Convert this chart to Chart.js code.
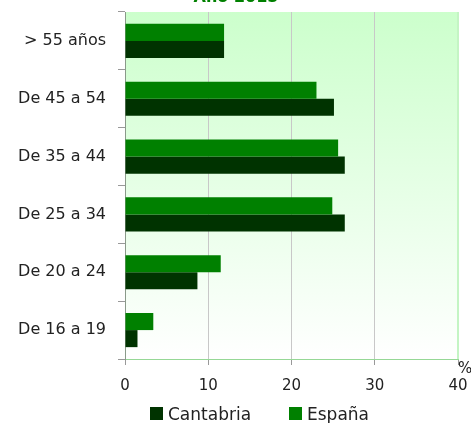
<!DOCTYPE html>
<html>
<head>
<meta charset="utf-8">
<script src="https://cdn.jsdelivr.net/npm/chart.js@4/dist/chart.umd.min.js"></script>
<style>
html,body{margin:0;padding:0;background:#fff;overflow:hidden;}
canvas{display:block;}
</style>
</head>
<body>
<canvas id="c" width="471" height="423"></canvas>
<script>
const titleText = "Año 2015";
const categories = ["> 55 años", "De 45 a 54", "De 35 a 44", "De 25 a 34", "De 20 a 24", "De 16 a 19"];
const espana = [11.9, 23.0, 25.6, 24.9, 11.5, 3.4];
const cantabria = [11.9, 25.1, 26.4, 26.4, 8.7, 1.5];
const xTicks = [0, 10, 20, 30, 40];
const unitLabel = "%";

const FONT = "'DejaVu Sans', sans-serif";

const decor = {
  id: 'decor',
  beforeDraw(chart) {
    const {ctx, chartArea: a} = chart;
    const g = ctx.createLinearGradient(0, a.top, 0, a.bottom);
    g.addColorStop(0, '#ccffcc');
    g.addColorStop(1, '#ffffff');
    ctx.save();
    ctx.fillStyle = g;
    ctx.fillRect(a.left, a.top, a.right - a.left, a.bottom - a.top);
    ctx.restore();
  },
  afterDraw(chart) {
    const {ctx, chartArea: a} = chart;
    ctx.save();
    ctx.strokeStyle = '#c4f5c4';
    ctx.lineWidth = 2;
    ctx.beginPath();
    ctx.moveTo(a.right, a.top);
    ctx.lineTo(a.right, a.bottom);
    ctx.stroke();
    ctx.fillStyle = '#222';
    ctx.font = '15px ' + FONT;
    ctx.textAlign = 'left';
    ctx.textBaseline = 'top';
    ctx.fillText(unitLabel, a.right, a.bottom + 3);
    ctx.fillStyle = '#008000';
    ctx.font = 'bold 16px ' + FONT;
    ctx.textAlign = 'center';
    ctx.textBaseline = 'alphabetic';
    ctx.fillText(titleText, 236, 2);
    const ds = chart.data.datasets;
    const items = [ds[1], ds[0]];
    const xs = [150, 289];
    ctx.font = '17px ' + FONT;
    ctx.textAlign = 'left';
    ctx.textBaseline = 'alphabetic';
    items.forEach((d, i) => {
      ctx.fillStyle = d.backgroundColor;
      ctx.fillRect(xs[i], 407, 13, 13);
      ctx.fillStyle = '#222';
      ctx.fillText(d.label, xs[i] + 18, 420);
    });
    ctx.restore();
  }
};

new Chart(document.getElementById('c'), {
  type: 'bar',
  data: {
    labels: categories,
    datasets: [
      {label: 'España', data: espana, backgroundColor: '#008000'},
      {label: 'Cantabria', data: cantabria, backgroundColor: '#003300'}
    ]
  },
  options: {
    indexAxis: 'y',
    responsive: false,
    animation: false,
    devicePixelRatio: 1,
    layout: {autoPadding: false, padding: {top: 12, right: 13, left: 0, bottom: 0}},
    datasets: {bar: {categoryPercentage: 0.59, barPercentage: 1.0}},
    plugins: {legend: {display: false}, tooltip: {enabled: false}, title: {display: false}},
    scales: {
      x: {
        min: 0, max: 40,
        afterBuildTicks(s) { s.ticks = xTicks.map(v => ({value: v})); },
        afterFit(s) { s.height = 64; s.paddingLeft = 0; s.paddingRight = 0; },
        grid: {color: '#c8c8c8', tickColor: '#999', tickLength: 6, lineWidth: 1},
        border: {color: '#96d896', width: 1},
        ticks: {color: '#222', font: {family: FONT, size: 15}, padding: 12, maxRotation: 0}
      },
      y: {
        afterFit(s) { s.width = 125; s.paddingTop = 0; s.paddingBottom = 0; },
        grid: {drawOnChartArea: false, tickColor: '#999', tickLength: 7, offset: true},
        border: {color: '#8a9a8a', width: 1},
        ticks: {color: '#222', font: {family: FONT, size: 16}, padding: 12}
      }
    }
  },
  plugins: [decor]
});
</script>
</body>
</html>
